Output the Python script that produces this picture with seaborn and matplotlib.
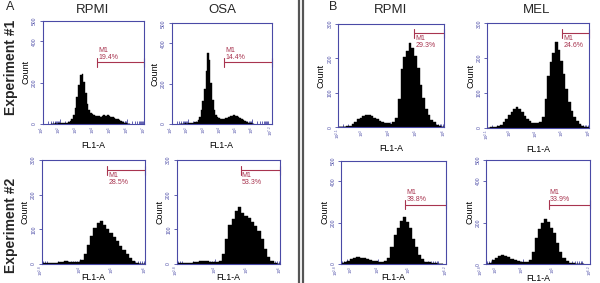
import numpy as np
import pandas as pd
import matplotlib
matplotlib.use("Agg")
import matplotlib.pyplot as plt
import seaborn as sns
from matplotlib.lines import Line2D

# ===============================
# Data
# ===============================
col_titles = ["RPMI", "OSA", "RPMI", "MEL"]
row_titles = ["Experiment #1", "Experiment #2"]
panel_letters = ["A", "B"]

BIN = 0.1  # bin width, in decades of FL1-A

# first bin edge (log10 FL1-A) and counts per bin, one list per panel
p1_start = 1.5
p1_counts = [2, 1, 3, 2, 4, 3, 5, 4, 6, 5, 9, 14, 24, 42, 78, 130, 190, 236, 242, 205,
             150, 96, 66, 52, 47, 44, 40, 37, 39, 36, 41, 44, 40, 43, 38, 36, 33, 31, 26,
             23, 18, 15, 10, 7, 4, 2, 1]
p2_start = 1.5
p2_counts = [1, 2, 2, 3, 2, 4, 3, 5, 6, 8, 11, 19, 36, 68, 112, 175, 262, 352, 318, 205,
             118, 70, 46, 36, 31, 27, 25, 27, 29, 31, 35, 38, 41, 43, 40, 38, 33, 30, 24,
             20, 15, 11, 7, 5, 3, 1]
p3_start = 2.8
p3_counts = [2, 2, 3, 3, 4, 5, 7, 8, 7, 6, 5, 5, 11, 28, 54, 80, 103, 117, 125, 113,
             102, 88, 79, 66, 52, 40, 28, 17, 9, 4, 1, 0]
p4_start = 2.8
p4_counts = [2, 2, 3, 4, 4, 5, 7, 9, 10, 8, 6, 5, 6, 9, 28, 72, 112, 131, 152, 165,
             148, 138, 133, 122, 110, 94, 72, 42, 21, 10, 4, 1]
p5_start = 2.1
p5_counts = [0, 1, 2, 3, 5, 10, 16, 23, 28, 33, 35, 36, 32, 28, 23, 19, 16, 13, 12, 11,
             14, 26, 82, 168, 204, 221, 244, 229, 208, 172, 124, 84, 54, 35, 22, 14, 8, 4, 2]
p6_start = 2.1
p6_counts = [0, 1, 2, 3, 4, 8, 15, 26, 36, 46, 55, 60, 54, 44, 34, 25, 18, 14, 13, 13,
             17, 31, 82, 148, 189, 214, 247, 224, 191, 155, 111, 74, 49, 30, 18, 10, 5, 2, 1]
p7_start = 2.8
p7_counts = [3, 8, 15, 22, 28, 32, 30, 27, 24, 20, 16, 14, 12, 12, 15, 31, 82, 140, 172, 210,
             226, 203, 176, 121, 80, 44, 22, 12, 8, 5, 3, 2, 1]
p8_start = 2.8
p8_counts = [2, 8, 20, 32, 41, 45, 41, 34, 27, 20, 14, 10, 9, 10, 20, 61, 128, 168, 196, 216,
             201, 176, 148, 101, 61, 32, 15, 8, 4, 2, 1, 1]

# grid order: row 0 = P1, P2, P5, P6 ; row 1 = P3, P4, P7, P8
hist_starts = [p1_start, p2_start, p5_start, p6_start, p3_start, p4_start, p7_start, p8_start]
hist_counts = [p1_counts, p2_counts, p5_counts, p6_counts, p3_counts, p4_counts, p7_counts, p8_counts]

x_ranges = [(1, 7), (1, 7.2), (2.1, 6), (2.1, 6), (2.8, 6), (2.8, 6), (2.8, 6.2), (2.8, 6.2)]
x_tick_exps = [["1", "2", "3", "4", "5", "6", "7"],
               ["1", "2", "3", "4", "5", "6", "7.2"],
               ["2.1", "3", "4", "5", "6"],
               ["2.1", "3", "4", "5", "6"],
               ["2.8", "4", "5", "6"],
               ["2.8", "4", "5", "6"],
               ["2.8", "3", "4", "5", "6.2"],
               ["2.8", "3", "4", "5", "6.2"]]
y_max = [500, 500, 300, 300, 300, 300, 500, 500]
y_ticks = [[0, 200, 400, 500], [0, 200, 400, 500], [0, 100, 200, 300], [0, 100, 200, 300],
           [0, 100, 200, 300], [0, 100, 200, 300], [0, 200, 400, 500], [0, 200, 400, 500]]

gate_from = [4.21, 4.25, 4.90, 4.97, 4.83, 4.78, 4.88, 4.85]
gate_level = [299, 307, 273, 271, 271, 271, 286, 285]
gate_pct = ["19.4%", "14.4%", "29.3%", "24.6%", "28.5%", "53.3%", "38.8%", "33.9%"]
gate_above = [True, True, False, False, False, False, True, True]

# ===============================
# Style
# ===============================
sns.set_theme(style="white")
plt.rcParams["font.family"] = ["Liberation Sans", "DejaVu Sans"]
plt.rcParams["mathtext.fontset"] = "custom"
plt.rcParams["mathtext.rm"] = "Liberation Sans"

FRAME = "#4a4aa6"
GATE = "#a8344f"

W, H = 600, 283
fig = plt.figure(figsize=(6, 2.83), dpi=100)
fig.patch.set_facecolor("white")

# axes boxes in pixels: left, top, right, bottom
boxes = [(42.7, 20.7, 144, 124), (171.7, 23.3, 271.7, 124),
         (338, 24, 444, 127.3), (487, 23.3, 589, 127.7),
         (41.7, 160, 145, 264), (176.7, 160, 280, 264),
         (341, 160.7, 446, 264), (486, 160, 590, 264.3)]

for i, (l, t, r, b) in enumerate(boxes):
    ax = fig.add_axes([l / W, 1 - b / H, (r - l) / W, (b - t) / H])
    counts = hist_counts[i]
    edges = hist_starts[i] + BIN * np.arange(len(counts) + 1)
    df = pd.DataFrame({"fl1": edges[:-1] + BIN / 2, "n": counts})
    sns.histplot(data=df, x="fl1", weights="n", bins=list(edges), element="step",
                 fill=True, color="black", alpha=1, linewidth=0.3, ax=ax)

    x0, x1 = x_ranges[i]
    ax.set_xlim(x0, x1)
    ax.set_ylim(0, y_max[i])

    # x ticks: log decades
    ticks = [float(e) for e in x_tick_exps[i]]
    ax.set_xticks(ticks)
    labels = ax.set_xticklabels(["$10^{%s}$" % e for e in x_tick_exps[i]], fontsize=3.1,
                                color=FRAME, rotation=90, ha="center", va="top")
    if ticks[1] - ticks[0] < 0.5:
        # two crowded labels at the left end: push them apart
        labels[0].set_ha("right")
        labels[1].set_ha("left")
    minor = [k + np.log10(m) for k in range(0, 8) for m in range(2, 10)
             if x0 < k + np.log10(m) < x1]
    ax.set_xticks(minor, minor=True)
    ax.tick_params(axis="x", which="major", direction="in", length=3.5, width=0.6,
                   color=FRAME, pad=1, bottom=True)
    ax.tick_params(axis="x", which="minor", direction="in", length=2.5, width=0.6,
                   color=FRAME, bottom=True)

    ax.set_yticks(y_ticks[i])
    ax.set_yticklabels([str(v) for v in y_ticks[i]], fontsize=3.6, color=FRAME,
                       rotation=90, va="center")
    ax.tick_params(axis="y", direction="out", length=2.5, width=0.6, color=FRAME,
                   pad=1.5, left=True)

    for s in ax.spines.values():
        s.set_color(FRAME)
        s.set_linewidth(0.8)

    ax.set_ylabel("Count", fontsize=6.5, color="black")
    ax.yaxis.set_label_coords(-12 / (r - l), 0.5)
    ax.set_xlabel("FL1-A", fontsize=6.3, color="black")
    drop = 17 if i < 4 else 9.5
    ax.xaxis.set_label_coords(0.5, -drop / (b - t))

    # M1 gate marker
    lvl = gate_level[i]
    g0 = gate_from[i]
    tick = 4.5 / (b - t) * y_max[i]
    ax.plot([g0, x1], [lvl, lvl], color=GATE, lw=0.8, clip_on=False)
    ax.plot([g0, g0], [lvl - tick, lvl + tick], color=GATE, lw=0.8, clip_on=False)
    ax.plot([x1, x1], [lvl - tick, lvl + tick], color=GATE, lw=0.8, clip_on=False)
    if gate_above[i]:
        ax.annotate("M1\n" + gate_pct[i], xy=(g0, lvl), xytext=(0.8, 1.2),
                    textcoords="offset points", ha="left", va="bottom",
                    fontsize=5, color=GATE, linespacing=1.0)
    else:
        ax.annotate("M1\n" + gate_pct[i], xy=(g0, lvl), xytext=(0.8, -1.2),
                    textcoords="offset points", ha="left", va="top",
                    fontsize=5, color=GATE, linespacing=1.0)

# ===============================
# Titles, row labels, panel letters
# ===============================
for x, t in zip([93, 222, 391, 537], col_titles):
    fig.text(x / W, 1 - 10 / H, t, ha="center", va="center", fontsize=9.5)

for y, t in zip([67.5, 225], row_titles):
    fig.text(11 / W, 1 - y / H, t, rotation=90, ha="center", va="center",
             fontsize=10, fontweight="bold")

fig.text(10 / W, 1 - 7 / H, panel_letters[0], ha="center", va="center", fontsize=9)
fig.text(333 / W, 1 - 7.5 / H, panel_letters[1], ha="center", va="center", fontsize=9)

# double divider between A and B
for x in [298.5, 302.5]:
    fig.add_artist(Line2D([x / W, x / W], [0, 1], color="#555555", lw=1.6))

plt.savefig("out.png", dpi=100)
plt.close()
